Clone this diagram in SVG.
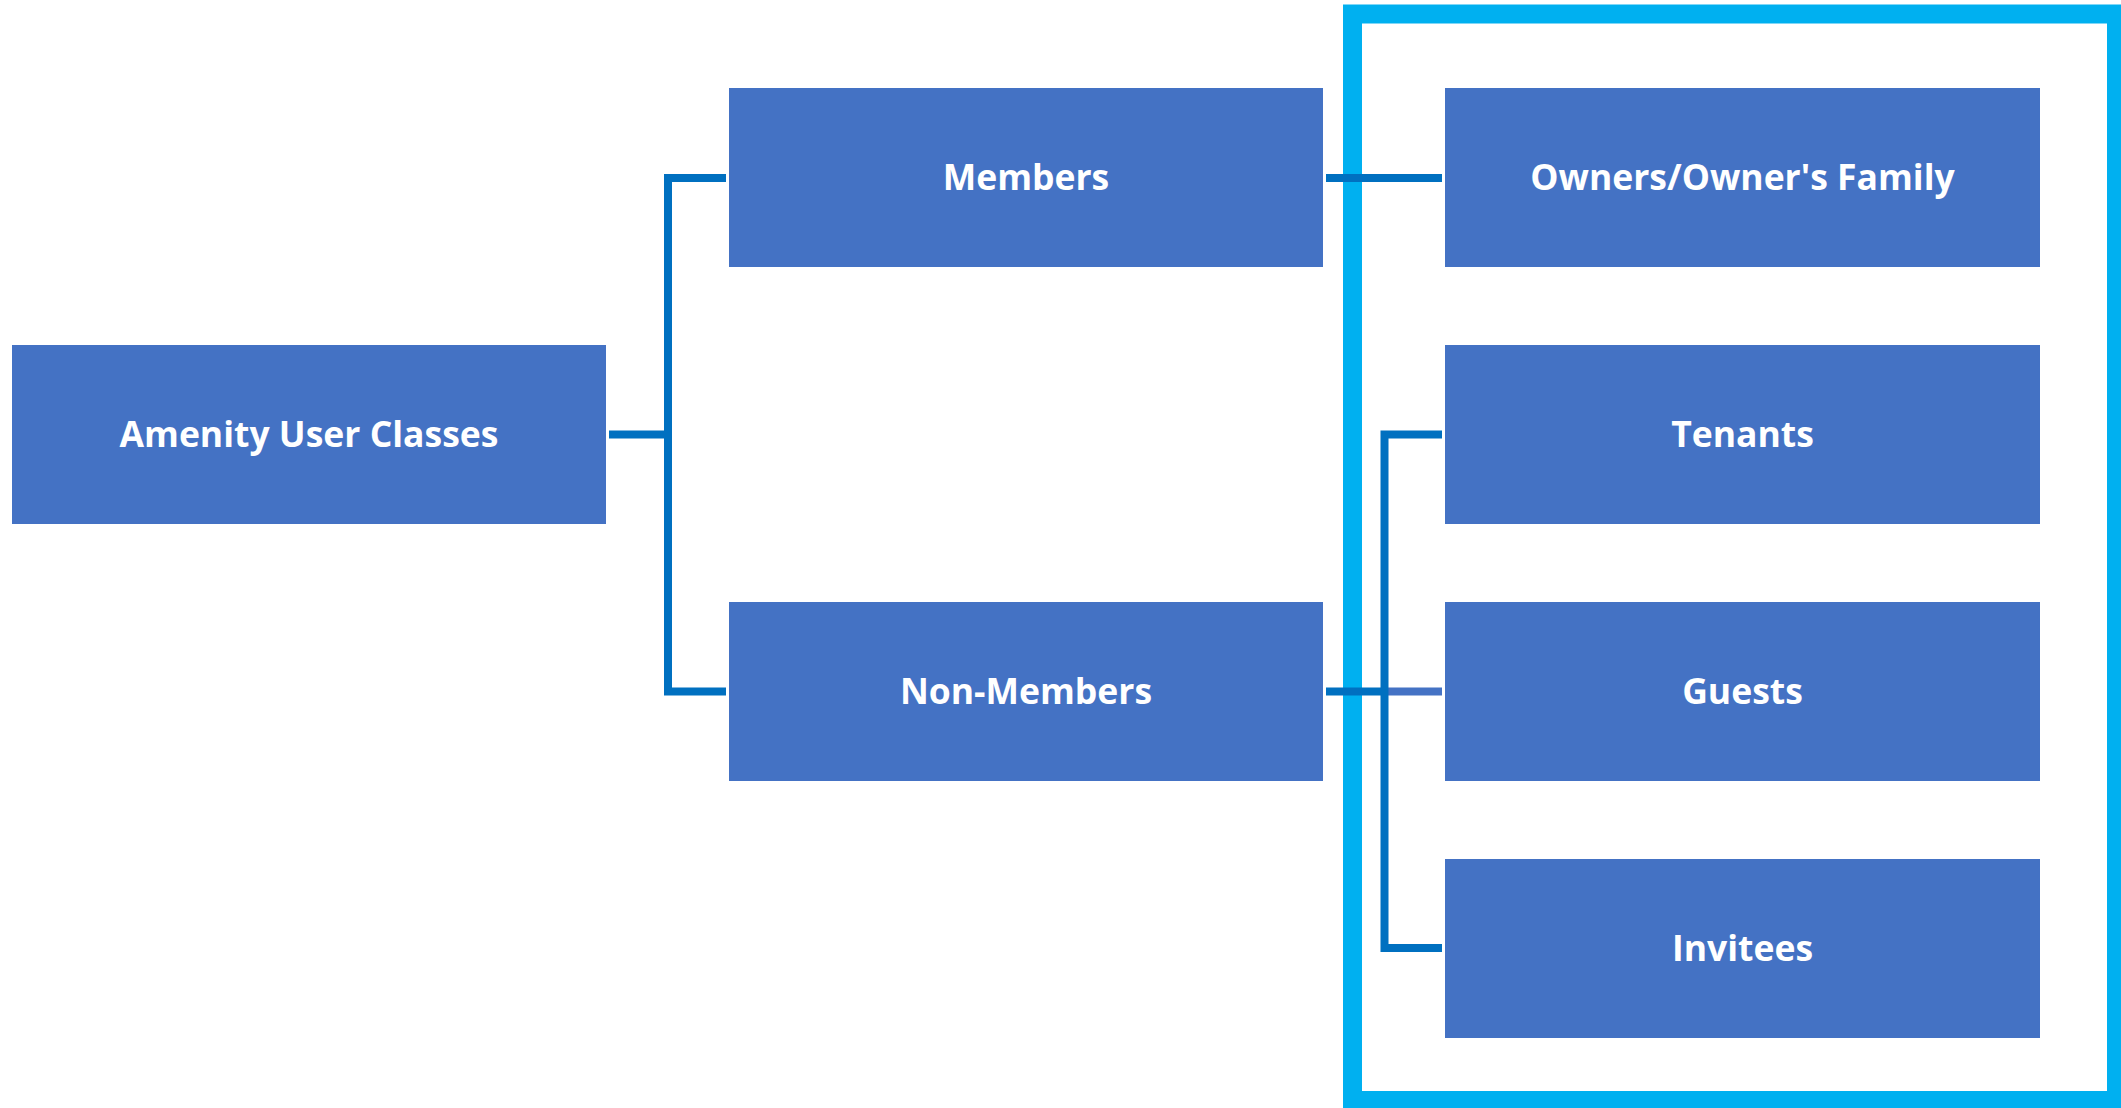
<svg xmlns="http://www.w3.org/2000/svg" width="2121" height="1108" viewBox="0 0 2121 1108">
<style>
.box{fill:#4472C4}
.lbl{fill:#FFFFFF;font-family:"Open Sans","Noto Sans","Liberation Sans",sans-serif;font-weight:bold;font-size:35.5px;text-anchor:middle}
.con{fill:none;stroke:#0070C0;stroke-width:8;stroke-linecap:butt;stroke-linejoin:miter}
</style>
<rect width="2121" height="1108" fill="#FFFFFF"/>
<g id="frame"><rect x="1352.5" y="14" width="764" height="1086.5" fill="none" stroke="#00B0F0" stroke-width="19"/></g>
<g id="connectors">
<path class="con" d="M609 434.5 H668 M726 178 H668 V691.5 H726"/>
<path class="con" d="M1326 178 H1442"/>
<path class="con" d="M1326 691.5 H1388"/>
<path d="M1388 691.5 H1442" fill="none" stroke="#4472C4" stroke-width="8"/>
<path class="con" d="M1442 434.5 H1384.5 V948 H1442"/>
</g>
<g id="n-amenity"><rect class="box" x="12" y="345" width="594" height="179"/><text class="lbl" x="309" y="446.5">Amenity User Classes</text></g>
<g id="n-members"><rect class="box" x="729" y="88" width="594" height="179"/><text class="lbl" x="1026" y="189.5">Members</text></g>
<g id="n-nonmembers"><rect class="box" x="729" y="602" width="594" height="179"/><text class="lbl" x="1026" y="703.5">Non-Members</text></g>
<g id="n-owners"><rect class="box" x="1445" y="88" width="595" height="179"/><text class="lbl" x="1742.5" y="189.5">Owners/Owner's Family</text></g>
<g id="n-tenants"><rect class="box" x="1445" y="345" width="595" height="179"/><text class="lbl" x="1742.5" y="446.5">Tenants</text></g>
<g id="n-guests"><rect class="box" x="1445" y="602" width="595" height="179"/><text class="lbl" x="1742.5" y="703.5">Guests</text></g>
<g id="n-invitees"><rect class="box" x="1445" y="859" width="595" height="179"/><text class="lbl" x="1742.5" y="960.5">Invitees</text></g>
</svg>
